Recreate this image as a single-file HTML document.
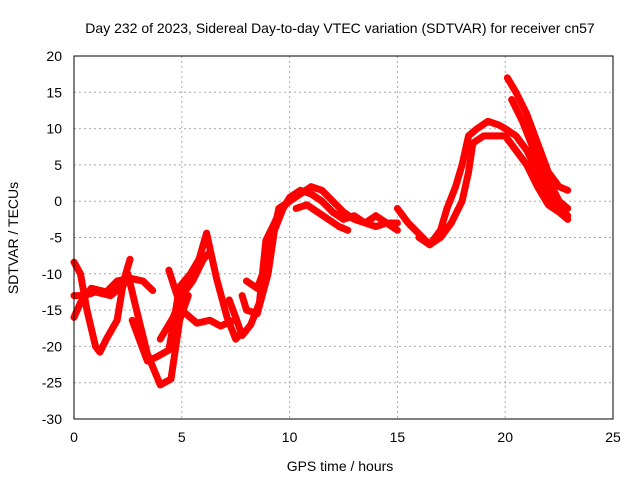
<!DOCTYPE html>
<html><head><meta charset="utf-8"><style>
body{margin:0;background:#fff}
svg{display:block;font-family:"Liberation Sans",sans-serif;font-size:14px}
</style></head><body>
<svg width="640" height="480">
<rect width="640" height="480" fill="#fff"/>
<text x="340" y="33" text-anchor="middle">Day 232 of 2023, Sidereal Day-to-day VTEC variation (SDTVAR) for receiver cn57</text>
<g id="grid"></g>
<g id="series"></g>
<rect x="74" y="56" width="539" height="363" fill="none" stroke="#000"/>
<g id="ticks"></g>
<text x="340" y="471" text-anchor="middle">GPS time / hours</text>
<text transform="translate(18,238) rotate(-90)" text-anchor="middle">SDTVAR / TECUs</text>
</svg>
<script>
const xTicks=[0,5,10,15,20,25];
const yTicks=[20,15,10,5,0,-5,-10,-15,-20,-25,-30];
const s1=[[0,-8.4],[0.3,-10],[0.6,-15],[1,-20],[1.2,-20.8],[1.5,-19],[2,-16.4],[2.3,-11],[2.6,-8]];
const s2=[[0,-16],[0.3,-14],[0.8,-12],[1.5,-12.5],[2,-11],[2.6,-10.6],[3.2,-11],[3.65,-12.3]];
const s3=[[0,-13],[0.5,-13],[1,-12.5],[1.7,-13],[2.3,-11.5]];
const s4=[[2.5,-10],[2.9,-15],[3.4,-21],[4,-25.3],[4.5,-24.5],[4.9,-16.4],[5.3,-13]];
const s5=[[2.7,-16.4],[3.4,-22],[3.8,-21.5],[4.4,-20.5],[4.9,-11.8],[5.4,-10],[5.8,-8],[6.15,-4.4],[6.6,-10.5],[7.1,-16],[7.5,-19],[7.8,-18]];
const s6=[[4.4,-9.5],[5,-15],[5.7,-16.8],[6.3,-16.4],[6.8,-17.2],[7.4,-16.4]];
const s7=[[4,-19],[4.6,-16],[5,-13],[5.5,-11],[6,-8],[6.3,-7]];
const s8=[[7.2,-13.6],[7.5,-16],[7.8,-18.5],[8.2,-17],[8.6,-14],[8.9,-5.4],[9.3,-3],[9.6,-1],[10,0]];
const s9=[[7.8,-13],[8,-15],[8.5,-15.5],[9,-10],[9.3,-4],[9.7,-1],[10,0.5],[10.5,1.5],[11,1],[11.5,0],[12,-1.5],[12.5,-2.5],[13,-2],[13.5,-3],[14,-3.5],[14.5,-3],[15,-3]];
const s10=[[8,-11],[8.5,-12],[9,-8],[9.5,-1],[10,0],[10.5,1],[11,2],[11.5,1.5],[12,0],[12.5,-1.5],[13,-2.5],[13.5,-3],[14,-2],[14.5,-3],[15,-4]];
const s11=[[10.3,-1],[10.8,-0.5],[11.3,-1.5],[11.8,-2.5],[12.3,-3.5],[12.7,-4]];
const s12=[[15,-1],[15.5,-3],[16,-4.5],[16.5,-6],[17,-4],[17.3,-1],[17.7,2],[18,5],[18.3,9],[18.7,10],[19.2,11],[19.7,10.5],[20,10],[20.5,9],[21,7],[21.5,4],[22,1],[22.5,-1],[22.9,-2]];
const s13=[[16,-5],[16.5,-6],[17,-5],[17.5,-3],[18,0],[18.3,4],[18.5,8],[19,9],[19.5,9],[20,9],[20.5,7],[21,5],[21.5,2],[22,-0.5],[22.5,-1.5],[22.9,-2.5]];
const s14=[[20.1,17],[20.5,15],[21,12],[21.5,8],[22,4],[22.5,2],[22.9,1.5]];
const s15=[[20.3,14],[20.8,11],[21.2,8],[21.6,5],[22,3],[22.5,0],[22.9,-1]];
const allSeries=[s1,s2,s3,s4,s5,s6,s7,s8,s9,s10,s11,s12,s13,s14,s15];
const X=v=>74+v*(539/25), Y=v=>56+(20-v)*(363/50);
const NS='http://www.w3.org/2000/svg';
function mk(t,a,p){const e=document.createElementNS(NS,t);for(const k in a)e.setAttribute(k,a[k]);p.appendChild(e);return e;}
const g=document.getElementById('grid'),tk=document.getElementById('ticks'),sg=document.getElementById('series');
xTicks.forEach(v=>{
 if(v>0&&v<25){const l=mk('line',{x1:X(v),x2:X(v),y1:56,y2:419,stroke:'#aaa','stroke-dasharray':'2,3'},g);
 
 }
 const t=mk('text',{x:X(v),y:442,'text-anchor':'middle'},tk);t.textContent=v;
 
 
});
yTicks.forEach(v=>{
 if(v<20&&v>-30){const l=mk('line',{x1:74,x2:613,y1:Y(v),y2:Y(v),stroke:'#aaa','stroke-dasharray':'2,3'},g);
 
 }
 const t=mk('text',{x:62,y:Y(v)+5,'text-anchor':'end'},tk);t.textContent=v;
 
 
});
allSeries.forEach((s,i)=>{
 const p=mk('polyline',{points:s.map(d=>X(d[0])+','+Y(d[1])).join(' '),fill:'none',stroke:'#f00','stroke-width':7,'stroke-linejoin':'round','stroke-linecap':'round'},sg);
 
 
});
</script>
</body></html>
